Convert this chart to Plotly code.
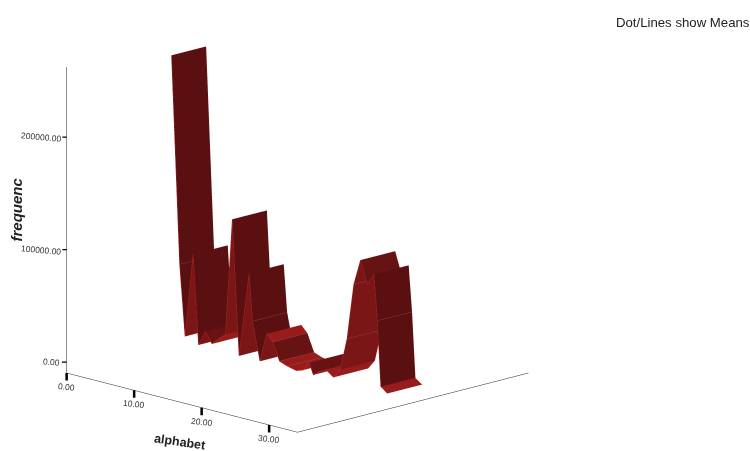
import math
import plotly.graph_objects as go

alphabet = [1, 2.2, 3, 4.2, 5, 6, 7, 8, 9, 10, 11, 12.5, 13, 14.1, 15.1, 16, 17, 18.2, 19.5, 20.5, 21.4, 22, 23, 24, 25, 26, 27, 28, 29, 30, 31, 31.5, 32, 33]
frequency = [252000, 68000, 5000, 80000, 500, 14000, 4500, 11000, 16000, 120000, 0, 76000, 34000, 0, 26000, 20000, 4500, 1800, 0, 2000, 10000, 0, 5000, 7000, 2500, 11000, 40000, 90000, 113000, 93000, 103500, 63000, 5000, 500]
knee_alphabet = [2.2, 13, 16, 17, 18.2, 27, 28, 31.5]
depth_front, depth_back = 0.425, 0.575
x_range = [0, 34.2]
z_range = [-9800, 262500]
z_ticks = [0, 100000, 200000]
x_ticks = [0, 10, 20, 30]

vx, vy, vz = [], [], []
for a, f in zip(alphabet, frequency):
    vx += [a, a]
    vy += [depth_front, depth_back]
    vz += [f, f]

I, J, K, FC = [], [], [], []
for n in range(len(alphabet) - 1):
    p = 2 * n
    slope = (frequency[n + 1] - frequency[n]) / (alphabet[n + 1] - alphabet[n])
    if slope < -30000:
        c = "#5a1010"
    elif slope < -9000:
        c = "#681313"
    elif slope > 9000:
        c = "#7a1616"
    else:
        c = "#981c1c"
    I += [p, p + 1]
    J += [p + 1, p + 3]
    K += [p + 2, p + 2]
    FC += [c, c]

fig = go.Figure()
fig.add_trace(go.Mesh3d(x=vx, y=vy, z=vz, i=I, j=J, k=K, facecolor=FC, flatshading=True,
                        lighting=dict(ambient=1, diffuse=0, specular=0, fresnel=0, roughness=1),
                        hoverinfo="skip", showscale=False))
# bright rim along the ribbon's front edge
fig.add_trace(go.Scatter3d(x=alphabet, y=[depth_front] * len(alphabet), z=frequency, mode="lines",
                           line=dict(color="#b52a2a", width=1), hoverinfo="skip"))
# pale creases across the ribbon
kx, ky, kz = [], [], []
for a in knee_alphabet:
    f = frequency[alphabet.index(a)]
    kx += [a, a, None]
    ky += [depth_front, depth_back, None]
    kz += [f, f, None]
fig.add_trace(go.Scatter3d(x=kx, y=ky, z=kz, mode="lines", line=dict(color="#a86a6a", width=1), hoverinfo="skip"))

el = math.asin(0.2565)
r = 1.25
s = 1.484
tick_font = dict(family="Liberation Sans", size=8.5, color="#333333")
axis_common = dict(showgrid=False, zeroline=False, showbackground=False, showspikes=False,
                   showline=True, linecolor="#222222", linewidth=1, title_text="",
                   showticklabels=False, ticks="")
scene_notes = []
for t in x_ticks:
    scene_notes.append(dict(x=t, y=0, z=z_range[0], text="%.2f" % t, font=tick_font, textangle=6,
                            showarrow=True, arrowhead=0, arrowwidth=2.5, arrowcolor="#000000",
                            standoff=0, ax=0, ay=14))
for t in z_ticks:
    label = "%.2f" % t
    scene_notes.append(dict(x=0, y=0, z=t, text=label, font=tick_font, textangle=5,
                            showarrow=True, arrowhead=0, arrowwidth=1.2, arrowcolor="#000000",
                            standoff=0, ax=-(6 + len(label) * 2.2), ay=0))
fig.update_layout(
    width=750, height=451, margin=dict(l=0, r=0, t=0, b=0), paper_bgcolor="white", showlegend=False,
    scene=dict(
        domain=dict(x=[0, 595 / 750], y=[11 / 451, 1]),
        aspectmode="manual", aspectratio=dict(x=s, y=s, z=0.97 * s),
        camera=dict(projection=dict(type="orthographic"),
                    up=dict(x=0, y=0, z=1), center=dict(x=0, y=0, z=0),
                    eye=dict(x=r, y=-r, z=r * math.sqrt(2) * math.tan(el))),
        xaxis=dict(range=x_range, **axis_common),
        yaxis=dict(range=[0, 1], **axis_common),
        zaxis=dict(range=z_range, **axis_common),
        annotations=scene_notes,
    ),
)
fig.layout.annotations = [
    dict(text="Dot/Lines show Means", x=751.5 / 750, y=1 - 22 / 451, xref="paper", yref="paper", xanchor="right", yanchor="middle",
         showarrow=False, font=dict(family="Liberation Sans", size=13.2, color="#222222")),
    dict(text="<b><i>frequenc</i></b>", x=16.5 / 750, y=1 - 210 / 451, xref="paper", yref="paper", textangle=-90,
         xanchor="center", yanchor="middle", showarrow=False, font=dict(family="Liberation Sans", size=15, color="#222222")),
    dict(text="<b>alphabet</b>", x=180 / 750, y=1 - 442 / 451, xref="paper", yref="paper", textangle=8,
         xanchor="center", yanchor="middle", showarrow=False, font=dict(family="Liberation Sans", size=12.5, color="#222222")),
]
fig.write_html("out.html", config=dict(displayModeBar=False), post_script="document.body.style.margin='0';")
